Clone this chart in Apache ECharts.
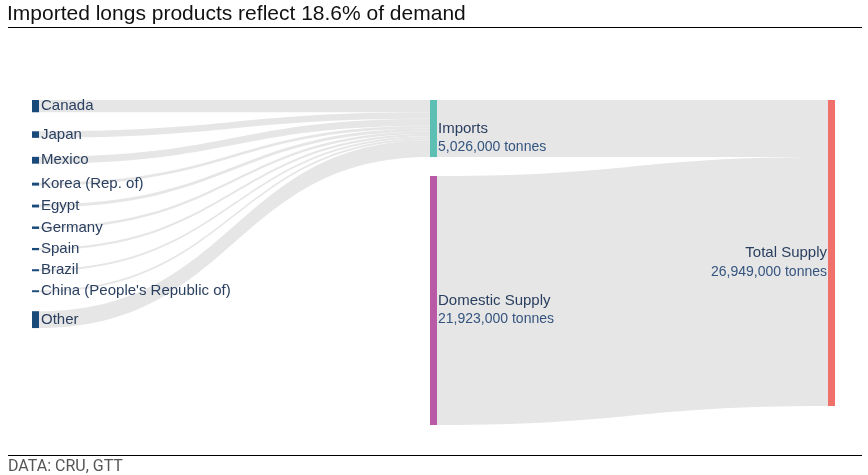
<!DOCTYPE html>
<html>
<head>
<meta charset="utf-8">
<script src="https://cdn.jsdelivr.net/npm/echarts@6/dist/echarts.min.js"></script>
<style>
html,body{margin:0;padding:0;background:#fff;}
#c{width:868px;height:475px;}
</style>
</head>
<body>
<div id="c"></div>
<script>
// ---- data ----
const titleText = "Imported longs products reflect 18.6% of demand";
const sourceText = "DATA: CRU, GTT";
const countries = ["Canada","Japan","Mexico","Korea (Rep. of)","Egypt","Germany","Spain","Brazil","China (People's Republic of)","Other"];
const importValues = [1080000, 580000, 600000, 260000, 250000, 220000, 200000, 180000, 170000, 1486000];
const importsName = "Imports";
const domesticName = "Domestic Supply";
const totalName = "Total Supply";
const domesticValue = 21923000;
const unit = "tonnes";

// ---- build ----
const importsTotal = importValues.reduce((a, b) => a + b, 0);
const fmt = v => v.toLocaleString('en-US') + ' ' + unit;
const FONT = 'Liberation Sans, Arial, sans-serif';

const richStyle = {
  n: {fontSize: 15, color: '#2a3f5f', fontFamily: FONT, lineHeight: 19},
  v: {fontSize: 14, color: '#34547f', fontFamily: FONT, lineHeight: 19}
};

const nodes = countries.map(c => ({
  name: c,
  depth: 0,
  itemStyle: {color: '#1a4a7a'}
}));
nodes.push({
  name: importsName, depth: 1,
  itemStyle: {color: '#5bbfb3'},
  label: {
    formatter: '{n|' + importsName + '}\n{v|' + fmt(importsTotal) + '}',
    verticalAlign: 'top', offset: [0, -9.5], distance: 1, rich: richStyle
  }
});
nodes.push({
  name: domesticName, depth: 1,
  itemStyle: {color: '#b85aa6'},
  label: {
    formatter: '{n|' + domesticName + '}\n{v|' + fmt(domesticValue) + '}',
    verticalAlign: 'top', offset: [0, -9.5], distance: 1, rich: richStyle
  }
});
nodes.push({
  name: totalName, depth: 2,
  itemStyle: {color: '#ef7169'},
  label: {
    position: 'left', align: 'right',
    formatter: '{n|' + totalName + '}\n{v|' + fmt(importsTotal + domesticValue) + '}',
    verticalAlign: 'top', offset: [0, -9.5], distance: 1,
    rich: {
      n: Object.assign({}, richStyle.n, {align: 'right'}),
      v: Object.assign({}, richStyle.v, {align: 'right'})
    }
  }
});

const links = countries.map((c, i) => ({source: c, target: importsName, value: importValues[i]}));
links.push({source: importsName, target: totalName, value: importsTotal});
links.push({source: domesticName, target: totalName, value: domesticValue});

const chart = echarts.init(document.getElementById('c'), null, {renderer: 'canvas'});
chart.setOption({
  animation: false,
  backgroundColor: '#fff',
  title: [
    {text: titleText, left: 7, top: 4, padding: 0,
     textStyle: {fontSize: 21, fontWeight: 'normal', color: '#111', fontFamily: FONT}},
    {text: sourceText, left: 8, top: 459, padding: 0,
     textStyle: {fontSize: 16, fontWeight: 'normal', color: '#555', fontFamily: 'Roboto, Liberation Sans, sans-serif'}}
  ],
  graphic: [
    {type: 'line', shape: {x1: 8, y1: 27.5, x2: 862, y2: 27.5}, style: {stroke: '#000', lineWidth: 1}},
    {type: 'line', shape: {x1: 8, y1: 455.5, x2: 862, y2: 455.5}, style: {stroke: '#000', lineWidth: 1}}
  ],
  series: [{
    type: 'sankey',
    left: 32, top: 100, width: 803, height: 325,
    nodeWidth: 7,
    nodeGap: 19,
    layoutIterations: 0,
    draggable: false,
    emphasis: {disabled: true},
    label: {
      position: 'right', distance: 2,
      fontSize: 15, color: '#2a3f5f',
      fontFamily: FONT
    },
    lineStyle: {color: '#e6e6e6', opacity: 1, curveness: 0.5},
    data: nodes,
    links: links
  }]
});
</script>
</body>
</html>
